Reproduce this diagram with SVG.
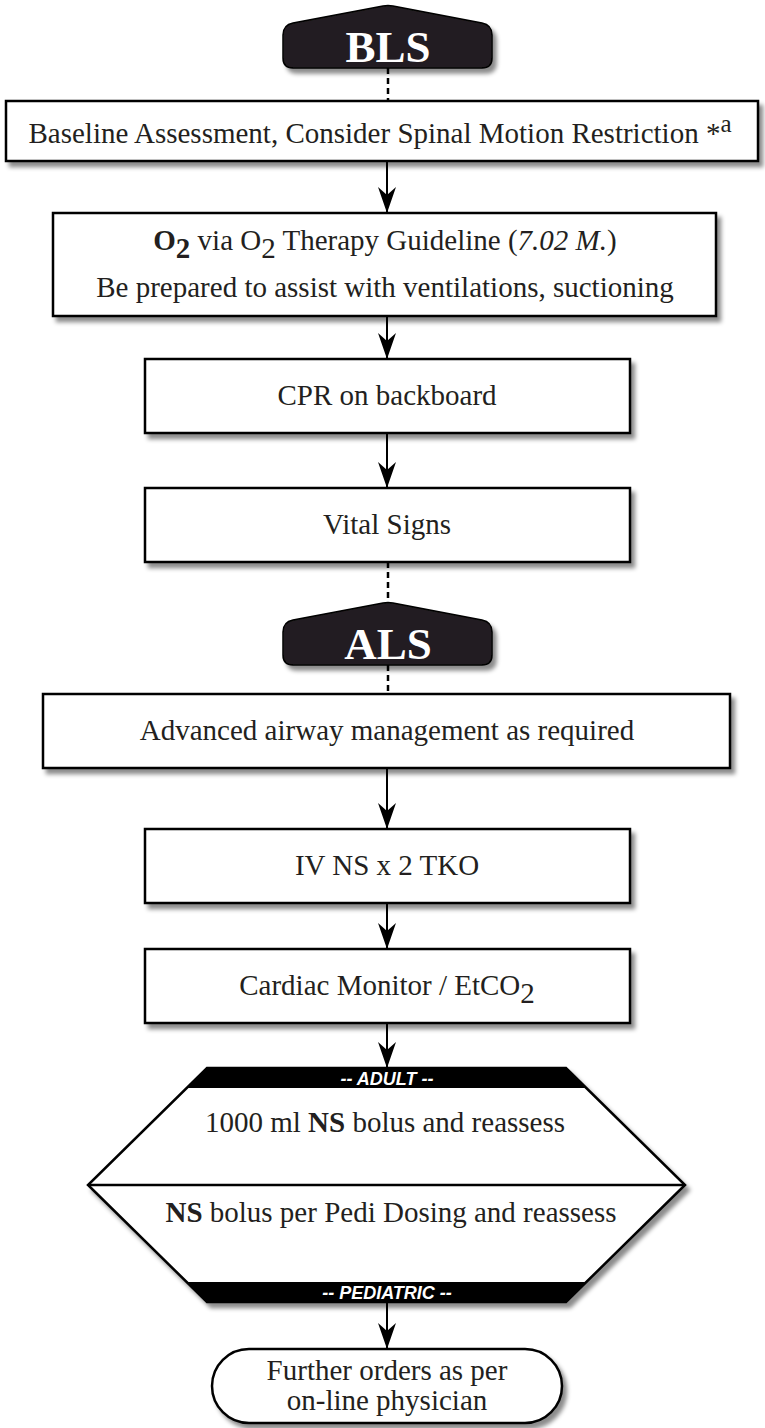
<svg xmlns="http://www.w3.org/2000/svg" width="765" height="1428" viewBox="0 0 765 1428">
<defs>
<filter id="sh" x="-10%" y="-10%" width="130%" height="140%">
<feDropShadow dx="4" dy="5" stdDeviation="2" flood-color="#000" flood-opacity="0.45"/>
</filter>
<marker id="ah" viewBox="0 0 26 18" refX="26" refY="9" markerWidth="26" markerHeight="18" markerUnits="userSpaceOnUse" orient="auto">
<path d="M0,0 L26,9 L0,18 L8,9 Z" fill="#000"/>
</marker>
</defs>
<style>
.box{fill:#fff;stroke:#000;stroke-width:2.5;filter:url(#sh)}
.hdr{fill:#231f20;stroke:#000;stroke-width:1.5;filter:url(#sh)}
.t{font-family:"Liberation Serif","Times New Roman",serif;font-size:29px;fill:#231f20;text-anchor:middle}
.ht{font-family:"Liberation Serif","Times New Roman",serif;font-size:45px;font-weight:bold;fill:#fff;text-anchor:middle}
.bt{font-family:"Liberation Sans",Arial,sans-serif;font-size:18px;font-weight:bold;font-style:italic;fill:#fff;text-anchor:middle}
.ln{stroke:#000;stroke-width:2.5;fill:none}
.arr{stroke:#000;stroke-width:2;fill:none;marker-end:url(#ah)}
.dash{stroke:#000;stroke-width:2.5;fill:none;stroke-dasharray:6,4}
</style>

<g id="connectors">
<line class="dash" x1="388" y1="68" x2="388" y2="101"/>
<line class="arr" x1="387" y1="161" x2="387" y2="213"/>
<line class="arr" x1="387" y1="316" x2="387" y2="359"/>
<line class="arr" x1="387" y1="433" x2="387" y2="488"/>
<line class="dash" x1="388" y1="562" x2="388" y2="603"/>
<line class="dash" x1="388" y1="665" x2="388" y2="694"/>
<line class="arr" x1="387" y1="768" x2="387" y2="829"/>
<line class="arr" x1="387" y1="903" x2="387" y2="949"/>
<line class="arr" x1="387" y1="1023" x2="387" y2="1068"/>
<line class="arr" x1="387" y1="1302" x2="387" y2="1349"/>
</g>

<g id="bls">
<path class="hdr" d="M293,23 L383,6 Q388,5 393,6 L482,23 Q492,25 492,35 L492,58 Q492,68 482,68 L293,68 Q283,68 283,58 L283,35 Q283,25 293,23 Z"/>
<text class="ht" x="388" y="62">BLS</text>
</g>

<g id="baseline">
<rect class="box" x="6" y="101" width="752" height="60"/>
<text class="t" x="380" y="143">Baseline Assessment, Consider Spinal Motion Restriction *<tspan dy="-11" font-size="25">a</tspan></text>
</g>

<g id="o2">
<rect class="box" x="53" y="213" width="663" height="103"/>
<text class="t" x="385" y="250"><tspan font-weight="bold">O</tspan><tspan font-weight="bold" dy="8">2</tspan><tspan dy="-8"> via O</tspan><tspan dy="8">2</tspan><tspan dy="-8"> Therapy Guideline (</tspan><tspan font-style="italic">7.02 M.</tspan>)</text>
<text class="t" x="385" y="297">Be prepared to assist with ventilations, suctioning</text>
</g>

<g id="cpr">
<rect class="box" x="145" y="359" width="485" height="74"/>
<text class="t" x="387" y="405">CPR on backboard</text>
</g>

<g id="vitals">
<rect class="box" x="145" y="488" width="485" height="74"/>
<text class="t" x="387" y="534">Vital Signs</text>
</g>

<g id="als">
<path class="hdr" d="M293,620 L383,603 Q388,602 393,603 L482,620 Q492,622 492,632 L492,655 Q492,665 482,665 L293,665 Q283,665 283,655 L283,632 Q283,622 293,620 Z"/>
<text class="ht" x="388" y="659">ALS</text>
</g>

<g id="airway">
<rect class="box" x="43" y="694" width="687" height="74"/>
<text class="t" x="387" y="740">Advanced airway management as required</text>
</g>

<g id="iv">
<rect class="box" x="145" y="829" width="485" height="74"/>
<text class="t" x="387" y="875">IV NS x 2 TKO</text>
</g>

<g id="monitor">
<rect class="box" x="145" y="949" width="485" height="74"/>
<text class="t" x="387" y="995">Cardiac Monitor / EtCO<tspan dy="8">2</tspan></text>
</g>

<g id="fluid">
<polygon class="box" points="207,1068 566,1068 685,1185 566,1302 207,1302 88,1185"/>
<line class="ln" x1="88" y1="1185" x2="685" y2="1185"/>
<polygon points="207,1068 566,1068 586,1088 187,1088" fill="#000"/>
<polygon points="187,1282 586,1282 566,1302 207,1302" fill="#000"/>
<text class="bt" x="387" y="1085">-- ADULT --</text>
<text class="t" x="385" y="1132">1000 ml <tspan font-weight="bold">NS</tspan> bolus and reassess</text>
<text class="t" x="391" y="1222"><tspan font-weight="bold">NS</tspan> bolus per Pedi Dosing and reassess</text>
<text class="bt" x="387" y="1299">-- PEDIATRIC --</text>
</g>

<g id="orders">
<rect class="box" x="212" y="1349" width="350" height="74" rx="37" ry="37"/>
<text class="t" x="387" y="1380">Further orders as per</text>
<text class="t" x="387" y="1410">on-line physician</text>
</g>
</svg>
